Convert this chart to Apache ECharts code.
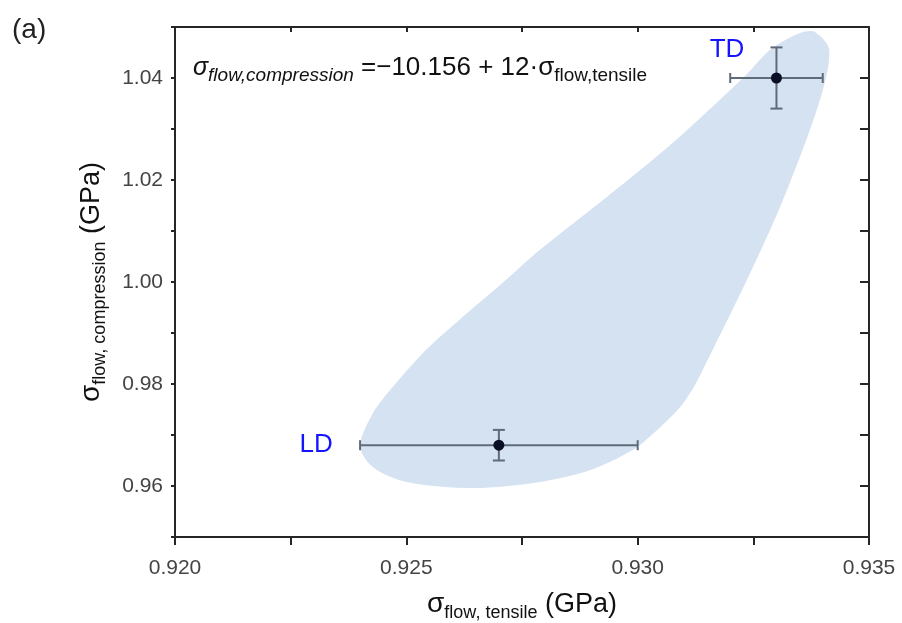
<!DOCTYPE html>
<html>
<head>
<meta charset="utf-8">
<script src="https://cdn.jsdelivr.net/npm/echarts@6/dist/echarts.min.js"></script>
<style>
    html, body { margin: 0; padding: 0; background: #fff; }
    #chart { width: 902px; height: 623px; }
</style>
</head>
<body>
<div id="chart"></div>
<script>
// measured points (GPa)
const pointNames = ['LD', 'TD'];
const pointX = [0.927, 0.933];
const pointY = [0.968, 1.040];
const xErrLo = [0.924, 0.932];
const xErrHi = [0.930, 0.934];
const yErrLo = [0.965, 1.034];
const yErrHi = [0.971, 1.046];

// label anchors
const labelX = [0.92305, 0.93193];
const labelY = [0.968, 1.0455];

// shaded region outline, clockwise from the top
const blobX = [0.93383, 0.93414, 0.93394, 0.93314, 0.93236, 0.93150, 0.93124, 0.93092, 0.93042,
    0.92990, 0.92897, 0.92789, 0.92644, 0.92501, 0.92428, 0.92400, 0.92428, 0.92465,
    0.92536, 0.92615, 0.92703, 0.92789, 0.92934, 0.93076, 0.93232, 0.93286, 0.93351];
const blobY = [1.0490, 1.0455, 1.0357, 1.0161, 1.0004, 0.9845, 0.9798, 0.9755, 0.9710,
    0.9671, 0.9631, 0.9608, 0.9596, 0.9608, 0.9637, 0.9678, 0.9743, 0.9788,
    0.9861, 0.9926, 0.9994, 1.0063, 1.0167, 1.0273, 1.0404, 1.0455, 1.0488];

const FONT = 'Liberation Sans, Arial, sans-serif';
const chart = echarts.init(document.getElementById('chart'));

const frameLine = { lineStyle: { color: '#262626', width: 2 } };

const option = {
    backgroundColor: '#fff',
    animation: false,
    grid: { left: 175, right: 33, top: 27, bottom: 86, outerBoundsMode: 'none' },
    graphic: [
        {
            type: 'text', left: 12, top: 16,
            style: { text: '(a)', font: '28px ' + FONT, fill: '#222' }
        },
        {
            type: 'text', left: 193, top: 55,
            style: {
                text: '{si|σ}{sis|flow,compression}{m| =−10.156 + 12·σ}{ss|flow,tensile}',
                fill: '#111',
                rich: {
                    si: { fontSize: 25, fontStyle: 'italic', fontFamily: FONT, verticalAlign: 'bottom', padding: [0, 0, 4, 0] },
                    sis: { fontSize: 19, fontStyle: 'italic', fontFamily: FONT, verticalAlign: 'bottom' },
                    m: { fontSize: 26, fontFamily: FONT, verticalAlign: 'bottom', padding: [0, 0, 4, 0] },
                    ss: { fontSize: 19, fontFamily: FONT, verticalAlign: 'bottom' }
                }
            }
        }
    ],
    xAxis: [
        {
            type: 'value', position: 'bottom',
            min: 0.92, max: 0.935, interval: 0.0025,
            axisLine: frameLine,
            axisTick: { inside: false, length: 8, lineStyle: { color: '#262626', width: 2 } },
            splitLine: { show: false },
            axisLabel: {
                margin: 21, fontSize: 21, fontFamily: FONT, color: '#444',
                formatter: function (v) {
                    return Math.round(v / 0.0025) % 2 === 0 ? v.toFixed(3) : '';
                }
            },
            name: '{s|σ}{sub|flow, tensile}{m| (GPa)}',
            nameLocation: 'middle', nameGap: 53,
            nameTextStyle: {
                color: '#111',
                rich: {
                    s: { fontSize: 28, fontFamily: FONT, verticalAlign: 'bottom', padding: [0, 0, 4, 0] },
                    sub: { fontSize: 18, fontFamily: FONT, verticalAlign: 'bottom' },
                    m: { fontSize: 27, fontFamily: FONT, verticalAlign: 'bottom', padding: [0, 0, 4, 0] }
                }
            }
        },
        {
            type: 'value', position: 'top',
            min: 0.92, max: 0.935, interval: 0.0025,
            axisLine: frameLine,
            axisTick: { inside: true, length: 5, lineStyle: { color: '#262626', width: 2 } },
            axisLabel: { show: false },
            splitLine: { show: false }
        }
    ],
    yAxis: [
        {
            type: 'value', position: 'left',
            min: 0.95, max: 1.05, interval: 0.01,
            axisLine: frameLine,
            axisTick: { inside: false, length: 4, lineStyle: { color: '#262626', width: 2 } },
            splitLine: { show: false },
            axisLabel: {
                margin: 12, fontSize: 21, fontFamily: FONT, color: '#444',
                formatter: function (v) {
                    return Math.round(v * 100) % 2 === 0 ? v.toFixed(2) : '';
                }
            },
            name: '{s|σ}{sub|flow, compression}{m| (GPa)}',
            nameLocation: 'middle', nameGap: 66, nameRotate: 90,
            nameTextStyle: {
                color: '#111',
                rich: {
                    s: { fontSize: 28, fontFamily: FONT, verticalAlign: 'bottom', padding: [0, 0, 4, 0] },
                    sub: { fontSize: 18, fontFamily: FONT, verticalAlign: 'bottom' },
                    m: { fontSize: 27, fontFamily: FONT, verticalAlign: 'bottom', padding: [0, 0, 4, 0] }
                }
            }
        },
        {
            type: 'value', position: 'right',
            min: 0.95, max: 1.05, interval: 0.01,
            axisLine: frameLine,
            axisTick: { inside: true, length: 9, lineStyle: { color: '#262626', width: 2 } },
            axisLabel: { show: false },
            splitLine: { show: false }
        }
    ],
    series: [
        {
            // shaded region
            type: 'custom',
            silent: true,
            z: 1,
            data: [[pointX[0], pointY[0]]],
            renderItem: function (params, api) {
                const pts = blobX.map(function (x, i) {
                    return api.coord([x, blobY[i]]);
                });
                return {
                    type: 'polygon',
                    shape: { points: pts, smooth: 0.3 },
                    style: { fill: '#d4e2f2' }
                };
            }
        },
        {
            // error bars
            type: 'custom',
            silent: true,
            z: 2,
            data: pointX.map(function (x, i) {
                return [x, pointY[i], xErrLo[i], xErrHi[i], yErrLo[i], yErrHi[i]];
            }),
            renderItem: function (params, api) {
                const c = api.coord([api.value(0), api.value(1)]);
                const xl = api.coord([api.value(2), api.value(1)]);
                const xh = api.coord([api.value(3), api.value(1)]);
                const yl = api.coord([api.value(0), api.value(4)]);
                const yh = api.coord([api.value(0), api.value(5)]);
                const st = { stroke: '#5f6b79', lineWidth: 2 };
                const capH = 5, capW = 6;
                return {
                    type: 'group',
                    children: [
                        { type: 'line', shape: { x1: xl[0], y1: c[1], x2: xh[0], y2: c[1] }, style: st },
                        { type: 'line', shape: { x1: xl[0], y1: c[1] - capH, x2: xl[0], y2: c[1] + capH }, style: st },
                        { type: 'line', shape: { x1: xh[0], y1: c[1] - capH, x2: xh[0], y2: c[1] + capH }, style: st },
                        { type: 'line', shape: { x1: c[0], y1: yl[1], x2: c[0], y2: yh[1] }, style: st },
                        { type: 'line', shape: { x1: c[0] - capW, y1: yl[1], x2: c[0] + capW, y2: yl[1] }, style: st },
                        { type: 'line', shape: { x1: c[0] - capW, y1: yh[1], x2: c[0] + capW, y2: yh[1] }, style: st }
                    ]
                };
            }
        },
        {
            type: 'scatter',
            z: 3,
            symbolSize: 11,
            itemStyle: { color: '#0b0f26', opacity: 1 },
            data: pointX.map(function (x, i) { return [x, pointY[i]]; })
        },
        {
            // LD / TD labels
            type: 'scatter',
            z: 4,
            symbolSize: 1,
            silent: true,
            itemStyle: { color: 'rgba(0,0,0,0)', opacity: 1 },
            data: labelX.map(function (x, i) {
                return { name: pointNames[i], value: [x, labelY[i]] };
            }),
            label: {
                show: true, position: 'inside', formatter: '{b}',
                fontSize: 26, fontFamily: FONT, color: '#1414ff', opacity: 1
            }
        }
    ]
};

chart.setOption(option);
</script>
</body>
</html>
